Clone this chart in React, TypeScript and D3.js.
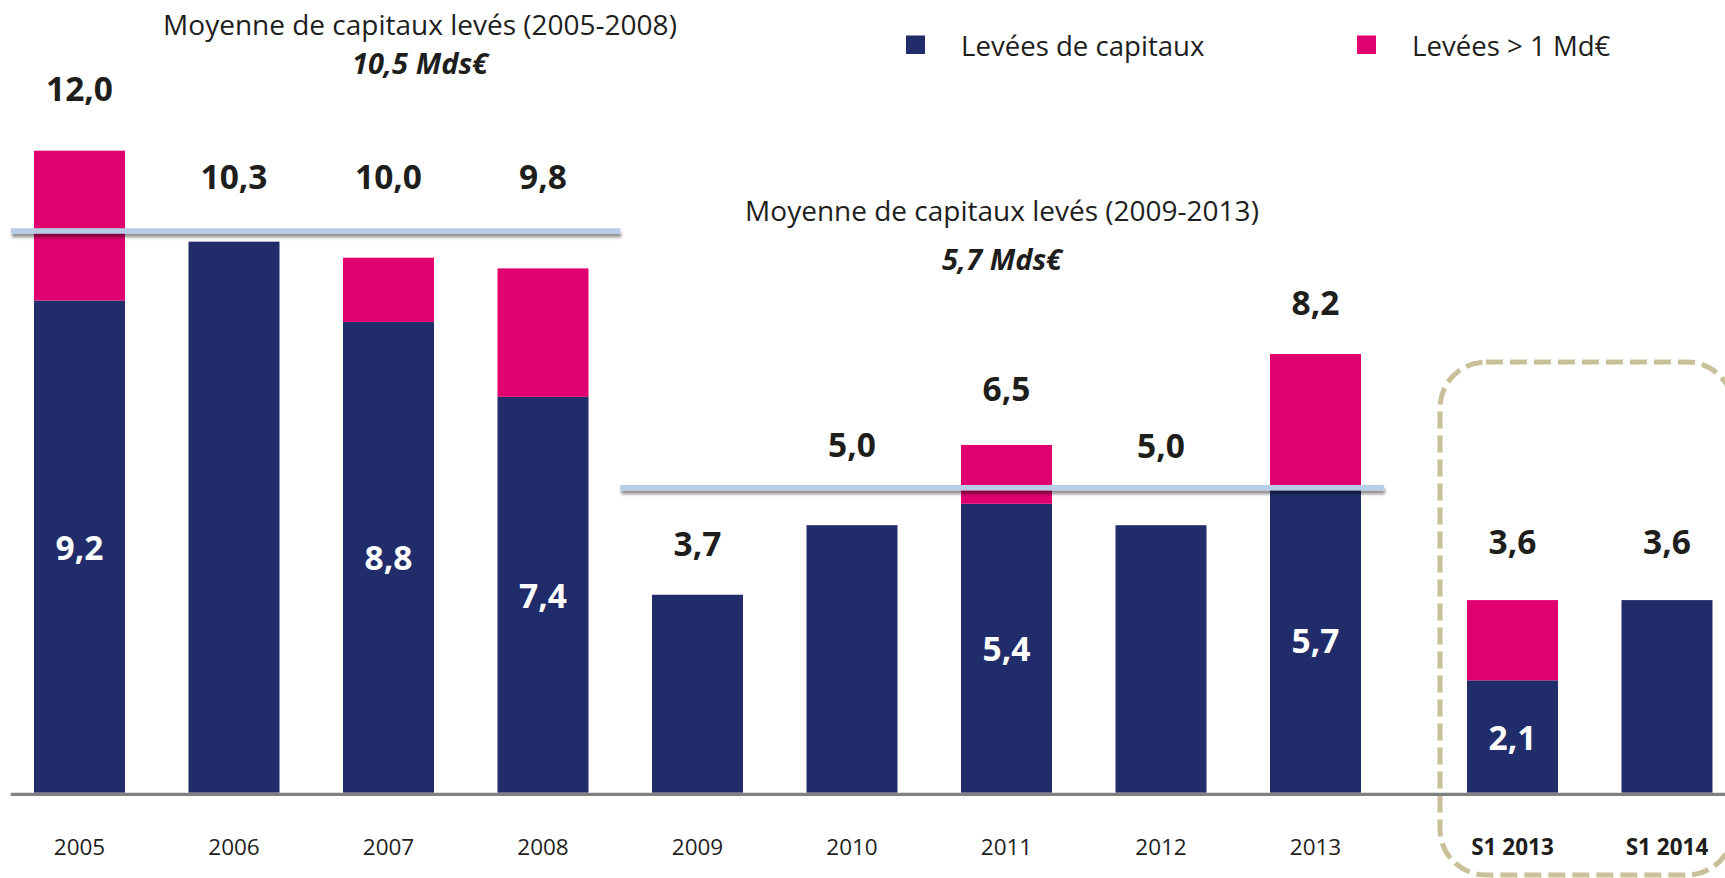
import React from "react";
import * as d3 from "d3";

// ---------- DATA ----------
const categories = ["2005", "2006", "2007", "2008", "2009", "2010", "2011", "2012", "2013", "S1 2013", "S1 2014"];
const periodKind = ["year", "year", "year", "year", "year", "year", "year", "year", "year", "half", "half"];
const totalRaised = [12.0, 10.3, 10.0, 9.8, 3.7, 5.0, 6.5, 5.0, 8.2, 3.6, 3.6];
const regularRaised = [9.2, 10.3, 8.8, 7.4, 3.7, 5.0, 5.4, 5.0, 5.7, 2.1, 3.6];
const seriesNames = ["Levées de capitaux", "Levées > 1 Md€"];
const avgTitles = ["Moyenne de capitaux levés (2005-2008)", "Moyenne de capitaux levés (2009-2013)"];
const avgValues = [10.5, 5.7];
const avgTexts = ["10,5 Mds€", "5,7 Mds€"];
const avgFrom = [0, 4];
const avgTo = [3, 8];

// ---------- LAYOUT / STYLE ----------
const W = 1725;
const H = 878;
const BLUE = "#212d6a";
const PINK = "#e1006f";
const TEXT = "#1e1e1c";
const FONT = "'Open Sans', sans-serif";
const BAR_W = 91;
const HALF_GAP = 0.275; // extra spacing (in steps) before the half-year group
// where the total label sits, in value units
const labelAnchor = [13.17, 11.53, 11.53, 11.53, 4.66, 6.51, 7.56, 6.49, 9.18, 4.7, 4.7];
const titleX = [420, 1002];
const titleY = [24, 210];
const subY = [62.7, 258.5];
const legendX = [906, 1357];

const fmt = (v: number) => v.toFixed(1).replace(".", ",");

export default function App() {
  const y = d3.scaleLinear().domain([0, 12]).range([792.7, 150.7]);
  const xi = d3.scaleLinear().domain([0, 1]).range([79.5, 234]);
  const pos = (i: number) => i + (periodKind[i] === "half" ? HALF_GAP : 0);
  const cx = (i: number) => xi(pos(i));

  const stacked = categories.map((c, i) => ({
    cat: c,
    i,
    base: regularRaised[i],
    big: +(totalRaised[i] - regularRaised[i]).toFixed(2),
    total: totalRaised[i],
  }));

  const avgLines = avgValues.map((v, k) => {
    const from = avgFrom[k];
    const to = avgTo[k];
    const x1 = k === 0 ? xi(from - 0.443) : xi(from - 0.5);
    const x2 = k === avgValues.length - 1 ? xi(to + 0.443) : xi(to + 0.5);
    return { x1, x2, y: y(v), k };
  });

  const LINE_T = 5.5;

  return (
    <svg
      width={W}
      height={H}
      viewBox={`0 0 ${W} ${H}`}
      style={{ position: "absolute", left: 0, top: 0, background: "#fff" }}
      fontFamily={FONT}
    >
      <defs>
        <filter id="lineShadow" x="-5%" y="-100%" width="110%" height="400%">
          <feDropShadow dx="1" dy="3.5" stdDeviation="1.8" floodColor="#000" floodOpacity="0.45" />
        </filter>
      </defs>
      <rect x={0} y={0} width={W} height={H} fill="#fff" />

      {/* dashed frame around half-year group */}
      <rect
        x={1440}
        y={362}
        width={293}
        height={513}
        rx={46}
        ry={46}
        fill="none"
        stroke="#c9c09a"
        strokeWidth={5}
        strokeDasharray="17 7"
      />

      {/* bars */}
      {stacked.map((d) => (
        <g key={d.cat}>
          <rect x={cx(d.i) - BAR_W / 2} y={y(d.base)} width={BAR_W} height={y(0) - y(d.base)} fill={BLUE} />
          {d.big > 0 && (
            <rect x={cx(d.i) - BAR_W / 2} y={y(d.total)} width={BAR_W} height={y(d.base) - y(d.total)} fill={PINK} />
          )}
        </g>
      ))}

      {/* axis baseline */}
      <line x1={10.7} x2={W} y1={y(0) + 1.6} y2={y(0) + 1.6} stroke="#808080" strokeWidth={3.2} />

      {/* average lines */}
      {avgLines.map((l) => (
        <rect
          key={l.k}
          x={l.x1}
          y={l.y - LINE_T / 2}
          width={l.x2 - l.x1}
          height={LINE_T}
          fill="#b8cde5"
          filter="url(#lineShadow)"
        />
      ))}

      {/* inner labels (regular part) */}
      {stacked
        .filter((d) => d.big > 0)
        .map((d) => (
          <text
            key={"in" + d.cat}
            x={cx(d.i)}
            y={y(d.base / 2)}
            textAnchor="middle"
            dominantBaseline="central"
            fill="#fff"
            fontWeight={700}
            fontSize={33.5}
          >
            {fmt(d.base)}
          </text>
        ))}

      {/* total labels */}
      {stacked.map((d) => (
        <text
          key={"tot" + d.cat}
          x={cx(d.i)}
          y={y(labelAnchor[d.i])}
          textAnchor="middle"
          dominantBaseline="central"
          fill={TEXT}
          fontWeight={700}
          fontSize={33.5}
        >
          {fmt(d.total)}
        </text>
      ))}

      {/* x axis labels */}
      {categories.map((c, i) => (
        <text
          key={"x" + c}
          x={cx(i)}
          y={846.7}
          textAnchor="middle"
          dominantBaseline="central"
          fill={TEXT}
          fontWeight={periodKind[i] === "half" ? 700 : 400}
          fontSize={periodKind[i] === "half" ? 22.5 : 22.5}
        >
          {c}
        </text>
      ))}

      {/* average titles */}
      {avgTitles.map((t, k) => (
        <g key={"avg" + k}>
          <text x={titleX[k]} y={titleY[k]} textAnchor="middle" dominantBaseline="central" fill={TEXT} fontSize={28}>
            {t}
          </text>
          <text
            x={titleX[k]}
            y={subY[k]}
            textAnchor="middle"
            dominantBaseline="central"
            fill={TEXT}
            fontSize={29}
            fontWeight={700}
            fontStyle="italic"
          >
            {avgTexts[k]}
          </text>
        </g>
      ))}

      {/* legend */}
      {seriesNames.map((s, k) => (
        <g key={"lg" + k}>
          <rect x={legendX[k]} y={35.5} width={19} height={18.5} fill={k === 0 ? BLUE : PINK} />
          <text x={legendX[k] + 55} y={44.5} dominantBaseline="central" fill={TEXT} fontSize={27.6}>
            {s}
          </text>
        </g>
      ))}
    </svg>
  );
}
